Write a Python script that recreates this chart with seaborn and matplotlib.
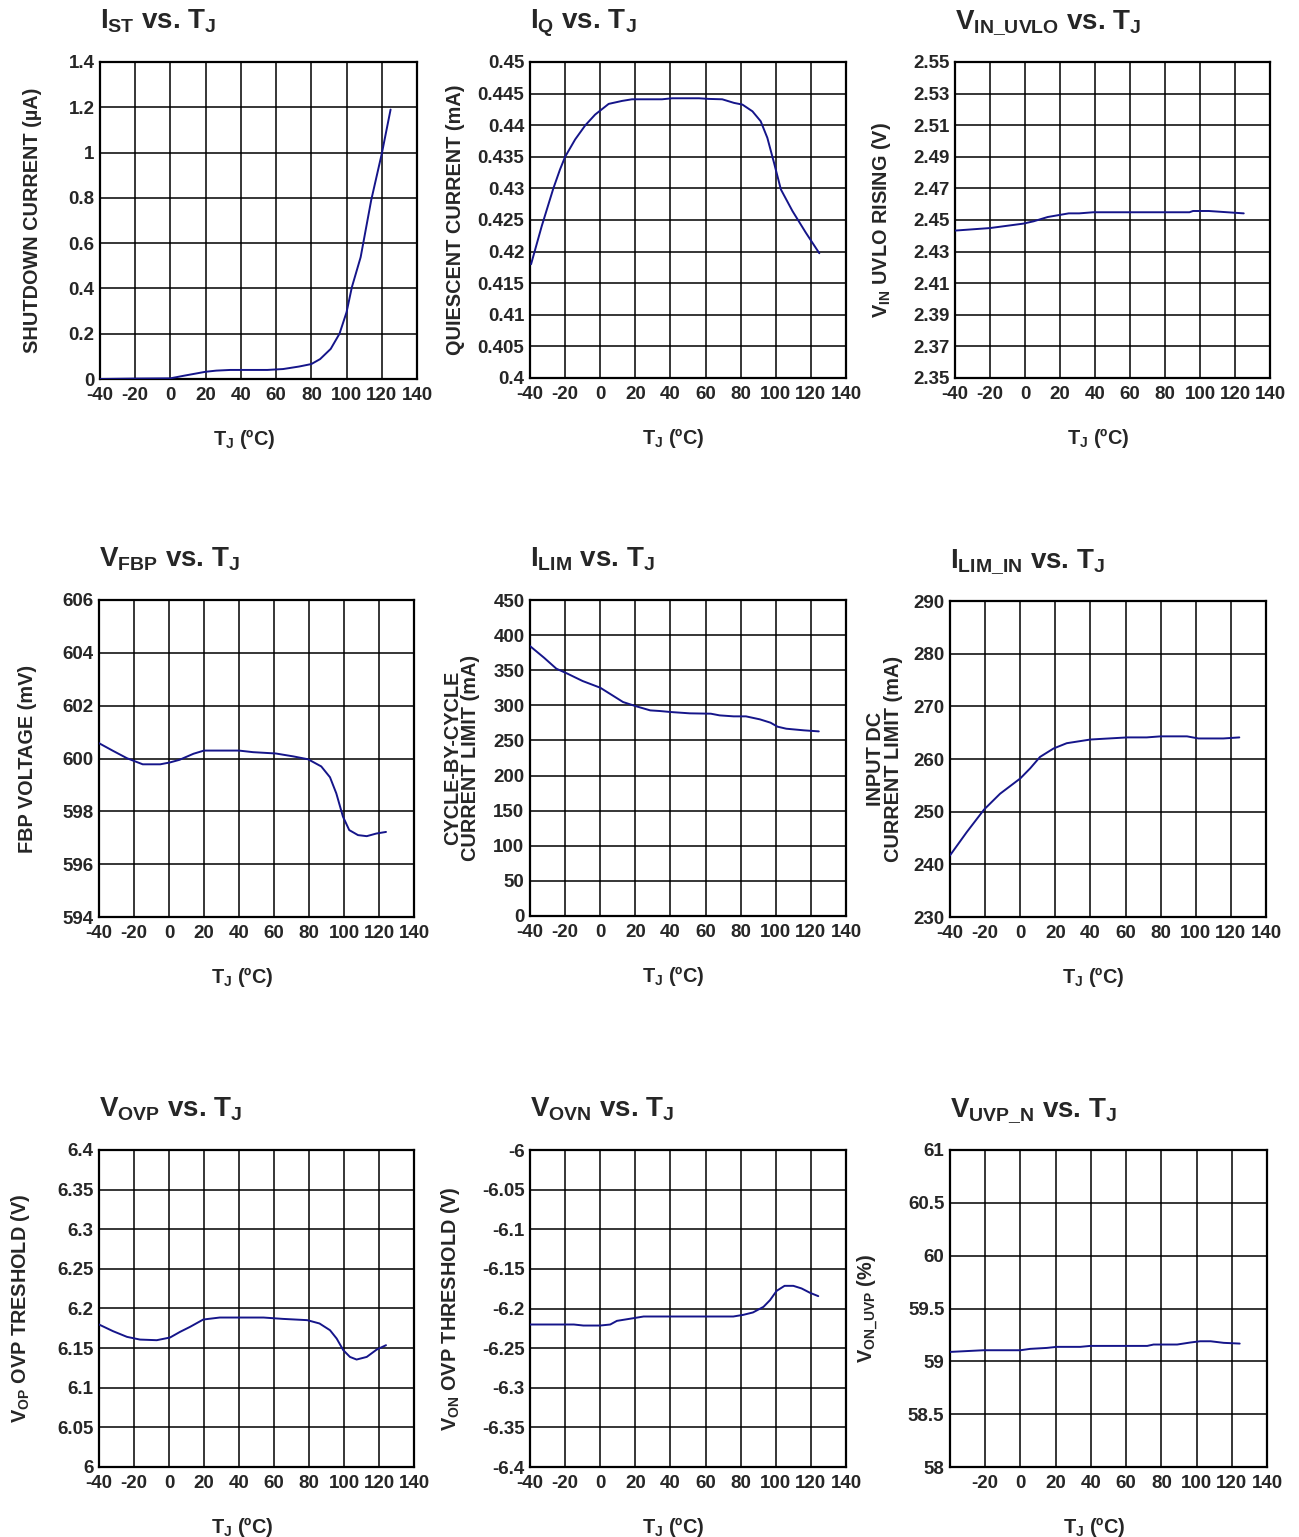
import numpy as np
import pandas as pd
import seaborn as sns
import matplotlib.pyplot as plt

sns.set_style("white")
plt.rcParams['font.family'] = ['Liberation Sans', 'DejaVu Sans']
plt.rcParams['mathtext.fontset'] = 'custom'
plt.rcParams['mathtext.rm'] = 'Liberation Sans'
plt.rcParams['mathtext.bf'] = 'Liberation Sans:bold'
plt.rcParams['mathtext.it'] = 'Liberation Sans:italic'
plt.rcParams['axes.unicode_minus'] = False

# x axis (junction temperature) ticks shared by all panels
tj_ticks = [-40, -20, 0, 20, 40, 60, 80, 100, 120, 140]

# I_ST vs TJ
ist_t = [-40, -20, 0, 8, 20, 26, 34, 55, 64, 73, 80, 85, 91, 96, 100, 103, 108, 114, 120, 125]
ist_v = [0, 0.002, 0.003, 0.015, 0.032, 0.037, 0.04, 0.04, 0.044, 0.055, 0.066, 0.088,
         0.133, 0.2, 0.295, 0.405, 0.538, 0.79, 0.995, 1.19]
ist_ticks = ['0', '0.2', '0.4', '0.6', '0.8', '1', '1.2', '1.4']

# I_Q vs TJ
iq_t = [-39.4, -33.3, -26.7, -22.9, -20, -14.3, -8.6, -2.9, 4.8, 12.4, 18.1, 35.2, 41, 56.2,
        61.9, 69.5, 76.2, 81, 86.7, 91.4, 95.2, 99, 102.9, 109.5, 117.1, 124.8]
iq_v = [0.418, 0.42405, 0.43, 0.433, 0.435, 0.43774, 0.43995, 0.44168, 0.44337, 0.44384,
        0.4441, 0.4441, 0.44426, 0.44426, 0.44416, 0.4441, 0.44353, 0.44326, 0.4422, 0.44063,
        0.438, 0.43405, 0.42984, 0.42642, 0.423, 0.41974]
iq_ticks = ['0.4', '0.405', '0.41', '0.415', '0.42', '0.425', '0.43', '0.435', '0.44', '0.445', '0.45']

# V_IN_UVLO vs TJ
uvlo_t = [-40, -20, -1, 5, 13, 25, 31, 39, 94, 96, 105, 125]
uvlo_v = [2.4433, 2.4449, 2.4477, 2.4492, 2.4519, 2.4542, 2.4542, 2.4549, 2.4549, 2.4557,
          2.4557, 2.4542]
uvlo_ticks = ['2.35', '2.37', '2.39', '2.41', '2.43', '2.45', '2.47', '2.49', '2.51', '2.53', '2.55']

# V_FBP vs TJ
fbp_t = [-40, -32, -24, -15, -5, 0.5, 6, 14, 20, 40, 48, 61, 71, 79.5, 87, 92, 95.6, 99.4,
         103, 108, 113, 118.5, 124]
fbp_v = [600.58, 600.29, 600.01, 599.78, 599.78, 599.85, 599.95, 600.18, 600.3, 600.3, 600.24,
         600.19, 600.08, 599.97, 599.7, 599.29, 598.68, 597.8, 597.29, 597.1, 597.06, 597.16, 597.22]
fbp_ticks = ['594', '596', '598', '600', '602', '604', '606']

# I_LIM vs TJ
ilim_t = [-40, -32, -25, -19, -10, 0, 7.6, 13, 20, 28.5, 34, 40, 51, 63, 68, 76, 83, 91, 97,
          101, 106, 116, 124.5]
ilim_v = [384.4, 367.8, 352.2, 345.5, 334.6, 325.1, 313.2, 304.7, 299, 292.8, 291.9, 290.5,
          288.6, 288.1, 285.7, 284.3, 284.3, 280, 275.3, 269.6, 266.7, 264.4, 262.9]
ilim_ticks = ['0', '50', '100', '150', '200', '250', '300', '350', '400', '450']

# I_LIM_IN vs TJ
ilimin_t = [-40, -30.5, -20.6, -11.5, 0, 5.6, 11.3, 19, 26.5, 40, 61, 72, 80, 95, 101.5,
            115.7, 124.8]
ilimin_v = [241.7, 246.1, 250.4, 253.4, 256.3, 258.2, 260.4, 262, 263, 263.7, 264.1, 264.1,
            264.3, 264.3, 263.9, 263.9, 264.1]
ilimin_ticks = ['230', '240', '250', '260', '270', '280', '290']

# V_OVP vs TJ
ovp_t = [-40, -32, -24, -16.6, -7, 0.6, 6.3, 12, 19.6, 29, 54, 65, 79, 86, 92, 95.8, 99.6,
         103.4, 107.2, 113, 118.7, 124]
ovp_v = [6.1798, 6.1714, 6.1642, 6.1608, 6.16, 6.1634, 6.1705, 6.1768, 6.1861, 6.1886,
         6.1886, 6.1869, 6.1853, 6.1811, 6.1726, 6.1621, 6.1474, 6.1389, 6.1356, 6.1389,
         6.1482, 6.1537]
ovp_ticks = ['6', '6.05', '6.1', '6.15', '6.2', '6.25', '6.3', '6.35', '6.4']

# V_OVN vs TJ
ovn_t = [-40, -15, -9.6, 0, 5.7, 9.5, 19, 24.7, 36, 75.8, 81.5, 87, 93, 96.7, 100.5, 105,
         110, 114.7, 119.5, 124.2]
ovn_v = [-6.2202, -6.2202, -6.2215, -6.2215, -6.2202, -6.2156, -6.2122, -6.2101, -6.2101,
         -6.2101, -6.208, -6.205, -6.1979, -6.1895, -6.1777, -6.1714, -6.1714, -6.1747,
         -6.1802, -6.1844]
ovn_ticks = ['-6.4', '-6.35', '-6.3', '-6.25', '-6.2', '-6.15', '-6.1', '-6.05', '-6']

# V_UVP_N vs TJ
uvp_t = [-40, -21, 0, 5.5, 15, 20.6, 34, 39.6, 72, 75.6, 89, 96.4, 102, 108, 115.4, 124.5]
uvp_v = [59.089, 59.105, 59.105, 59.118, 59.127, 59.137, 59.137, 59.146, 59.146, 59.159,
         59.159, 59.178, 59.19, 59.19, 59.175, 59.168]
uvp_ticks = ['58', '58.5', '59', '59.5', '60', '60.5', '61']

panels = [
    (r'$\mathbf{I_{ST}}$ vs. $\mathbf{T_J}$', 'SHUTDOWN CURRENT (µA)', ist_t, ist_v, ist_ticks),
    (r'$\mathbf{I_Q}$ vs. $\mathbf{T_J}$', 'QUIESCENT CURRENT (mA)', iq_t, iq_v, iq_ticks),
    (r'$\mathbf{V_{IN\_UVLO}}$ vs. $\mathbf{T_J}$', r'$\mathbf{V_{IN}}$ UVLO RISING (V)', uvlo_t, uvlo_v, uvlo_ticks),
    (r'$\mathbf{V_{FBP}}$ vs. $\mathbf{T_J}$', 'FBP VOLTAGE (mV)', fbp_t, fbp_v, fbp_ticks),
    (r'$\mathbf{I_{LIM}}$ vs. $\mathbf{T_J}$', 'CYCLE-BY-CYCLE\nCURRENT LIMIT (mA)', ilim_t, ilim_v, ilim_ticks),
    (r'$\mathbf{I_{LIM\_IN}}$ vs. $\mathbf{T_J}$', 'INPUT DC\nCURRENT LIMIT (mA)', ilimin_t, ilimin_v, ilimin_ticks),
    (r'$\mathbf{V_{OVP}}$ vs. $\mathbf{T_J}$', r'$\mathbf{V_{OP}}$ OVP TRESHOLD (V)', ovp_t, ovp_v, ovp_ticks),
    (r'$\mathbf{V_{OVN}}$ vs. $\mathbf{T_J}$', r'$\mathbf{V_{ON}}$ OVP THRESHOLD (V)', ovn_t, ovn_v, ovn_ticks),
    (r'$\mathbf{V_{UVP\_N}}$ vs. $\mathbf{T_J}$', r'$\mathbf{V_{ON\_UVP}}$ (%)', uvp_t, uvp_v, uvp_ticks),
]

# axes boxes in pixels: left, top, right, bottom
boxes = [(100, 62, 417, 379), (530, 62, 846, 378), (955, 62, 1270, 378),
         (99, 600, 414, 917), (530, 600, 846, 916), (950, 601, 1266, 917),
         (99, 1150, 414, 1467), (530, 1150, 846, 1467), (950, 1150, 1267, 1467)]
ylab_x = [-0.183, -0.206, -0.197, -0.197, -0.158, -0.149, -0.213, -0.215, -0.22]

W, H = 1299, 1537
fig = plt.figure(figsize=(W / 100, H / 100), dpi=100)
line_color = '#15158a'

for i, (title, ylab, t, v, yt) in enumerate(panels):
    l, top, r, b = boxes[i]
    ax = fig.add_axes([l / W, (H - b) / H, (r - l) / W, (b - top) / H])
    df = pd.DataFrame({'tj': t, 'val': v})
    sns.lineplot(data=df, x='tj', y='val', ax=ax, color=line_color, lw=1.4, zorder=3)

    yvals = [float(s) for s in yt]
    ax.set_xlim(-40, 140)
    ax.set_ylim(yvals[0], yvals[-1])
    ax.set_xticks(tj_ticks)
    xl = [str(x) for x in tj_ticks]
    if i == 8:
        xl[0] = ''
    ax.set_xticklabels(xl, fontsize=13.5, fontweight='bold')
    ax.set_yticks(yvals)
    ax.set_yticklabels(yt, fontsize=13.5, fontweight='bold')
    ax.tick_params(length=0, pad=4)
    ax.tick_params(axis='x', pad=6)
    ax.grid(True, color='black', lw=1.1)
    for s in ax.spines.values():
        s.set_color('black')
        s.set_linewidth(1.6)

    ax.set_xlabel(r'$\mathbf{T_J}$ (ºC)', fontsize=14.3, fontweight='bold')
    ax.xaxis.set_label_coords(0.453, -0.152)
    ax.set_ylabel(ylab, fontsize=14.3, fontweight='bold', linespacing=0.95)
    ax.yaxis.set_label_coords(ylab_x[i], 0.5)

    ax.text(0.0, 1.107, title, transform=ax.transAxes, ha='left', va='baseline',
            fontsize=20, fontweight='bold')

fig.savefig('out.png', dpi=100)
